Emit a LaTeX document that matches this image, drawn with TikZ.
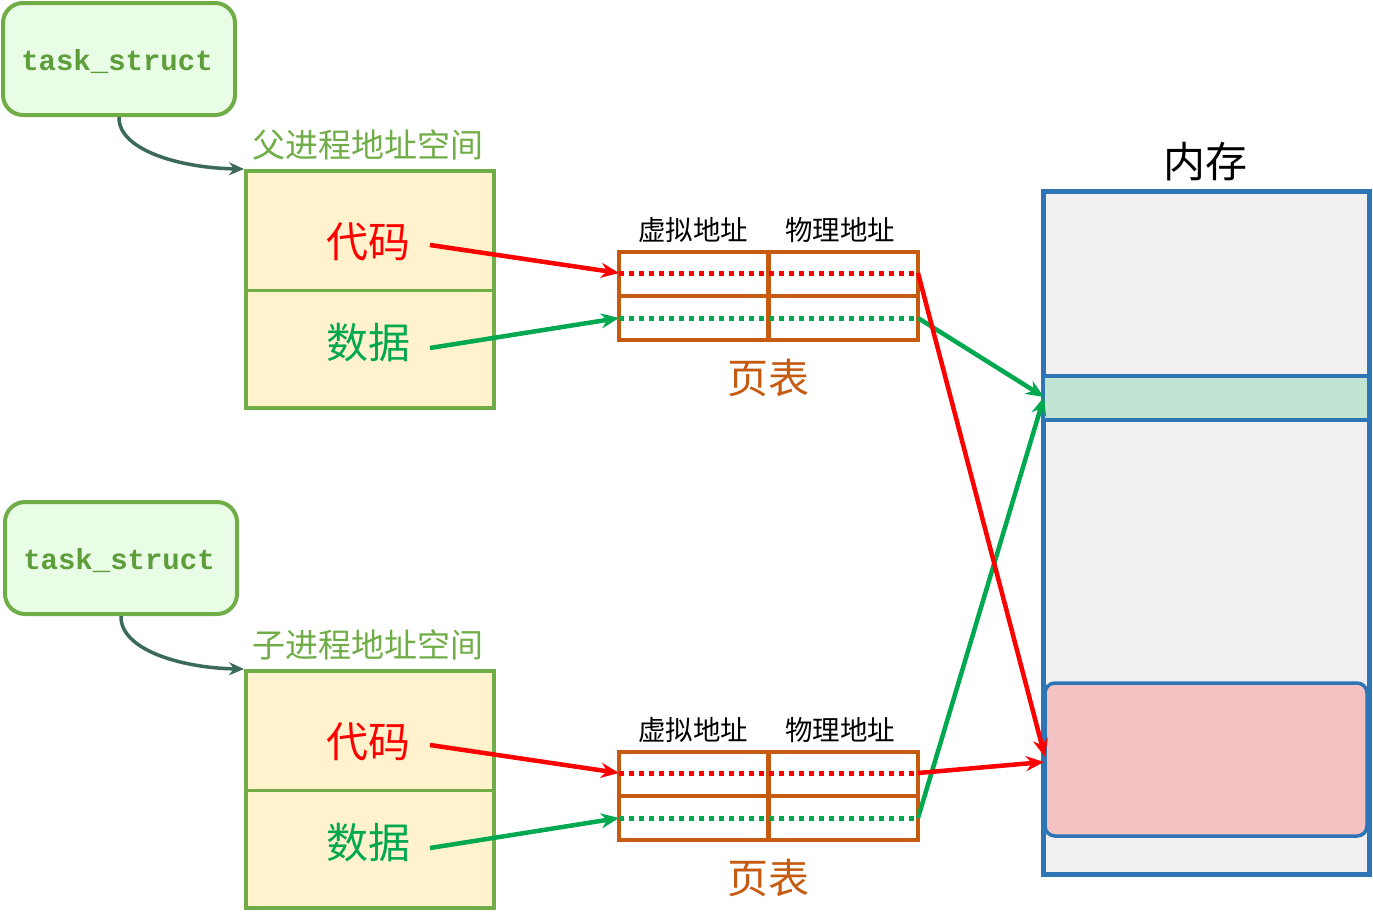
\documentclass[tikz,border=0pt]{standalone}
\usepackage{fontspec}
\setmainfont{Liberation Sans}
\newfontfamily\cjk{Noto Sans CJK SC}
\newfontfamily\monof{Liberation Mono}
\usetikzlibrary{arrows.meta}
\definecolor{tsfill}{HTML}{E8FCE6}
\definecolor{tsgreen}{HTML}{70AD47}
\definecolor{tstext}{HTML}{5E9E3A}
\definecolor{asfill}{HTML}{FFF2CC}
\definecolor{ptbrown}{HTML}{C55A11}
\definecolor{memblue}{HTML}{2E75B6}
\definecolor{memfill}{HTML}{F0F0F0}
\definecolor{bandfill}{HTML}{C2E5D3}
\definecolor{pinkfill}{HTML}{F4C2C2}
\definecolor{arrred}{HTML}{FF0000}
\definecolor{arrgreen}{HTML}{00A84F}
\definecolor{curvec}{HTML}{3B6A58}
\tikzset{
  tsbox/.style={draw=tsgreen, fill=tsfill, line width=4pt, rounded corners=20pt, minimum width=232pt, minimum height=112pt, inner sep=0pt},
  tstxt/.style={font=\monof\bfseries\fontsize{29}{29}\selectfont, text=tstext, inner sep=0pt},
  asbox/.style={draw=tsgreen, fill=asfill, line width=4pt, minimum width=248pt, minimum height=237pt, inner sep=0pt},
  aslabel/.style={font=\cjk\fontsize{33}{33}\selectfont, text=tsgreen, inner sep=0pt},
  big/.style={font=\cjk\fontsize{42}{42}\selectfont, inner sep=0pt},
  ptbox/.style={draw=ptbrown, line width=4.5pt, minimum width=299pt, minimum height=88pt, inner sep=0pt},
  ptdiv/.style={draw=ptbrown, line width=4.5pt},
  hdr/.style={font=\cjk\fontsize{27.5}{27.5}\selectfont, inner sep=0pt},
  ptlabel/.style={font=\cjk\fontsize{41}{41}\selectfont, text=ptbrown, inner sep=0pt},
  dotred/.style={draw=arrred, line width=5pt, dash pattern=on 5pt off 5pt},
  dotgreen/.style={draw=arrgreen, line width=5pt, dash pattern=on 5pt off 5pt},
  redarr/.style={draw=arrred, line width=4.5pt, -{Stealth[length=18pt,width=15pt]}},
  greenarr/.style={draw=arrgreen, line width=4.5pt, -{Stealth[length=18pt,width=15pt]}},
  curvearr/.style={draw=curvec, line width=3.5pt, -{Stealth[length=15pt,width=13pt]}},
}
\begin{document}
\begin{tikzpicture}[x=1pt,y=-1pt]
\useasboundingbox (0,0) rectangle (1373,911);

% task_struct boxes
\node[tsbox] (ts1) at (119,59) {};
\node[tstxt] (ts1t) at (117,62) {task\_struct};
\node[tsbox] (ts2) at (121,558) {};
\node[tstxt] (ts2t) at (119,561) {task\_struct};

% address spaces
\node[asbox] (as1) at (370,289.5) {};
\draw[draw=tsgreen, line width=3pt] (as1.west |- 0,290) coordinate (as1dl) -- (as1.east |- 0,290) coordinate (as1dr);
\node[aslabel] (as1lab) at (368,145) {父进程地址空间};
\node[big, text=arrred] (code1) at (368,242) {代码};
\node[big, text=arrgreen] (data1) at (368,343) {数据};

\node[asbox] (as2) at (370,789.5) {};
\draw[draw=tsgreen, line width=3pt] (as2.west |- 0,790) coordinate (as2dl) -- (as2.east |- 0,790) coordinate (as2dr);
\node[aslabel] (as2lab) at (368,645) {子进程地址空间};
\node[big, text=arrred] (code2) at (368,742) {代码};
\node[big, text=arrgreen] (data2) at (368,843) {数据};

% curved arrows
\draw[curvearr] (ts1.south) .. controls (118,150) and (180,168) .. (as1.north west);
\draw[curvearr] (ts2.south) .. controls (120,650) and (182,668) .. (as2.north west);

% page table 1
\node[ptbox] (pt1) at (768.5,296) {};
\draw[ptdiv] (pt1.north) -- (pt1.south);
\draw[ptdiv] (pt1.west) -- (pt1.east);
\node[hdr] (pt1h1) at (693,230) {虚拟地址};
\node[hdr] (pt1h2) at (840,230) {物理地址};
\node[ptlabel] (pt1lab) at (768,378) {页表};
\coordinate (p1rw) at (619,273); \coordinate (p1re) at (918,273);
\coordinate (p1gw) at (619,318); \coordinate (p1ge) at (918,318);
\draw[dotred] (p1rw) -- (p1re);
\draw[dotgreen] (p1gw) -- (p1ge);

% page table 2
\node[ptbox] (pt2) at (768.5,796) {};
\draw[ptdiv] (pt2.north) -- (pt2.south);
\draw[ptdiv] (pt2.west) -- (pt2.east);
\node[hdr] (pt2h1) at (693,730) {虚拟地址};
\node[hdr] (pt2h2) at (840,730) {物理地址};
\node[ptlabel] (pt2lab) at (768,878) {页表};
\coordinate (p2rw) at (619,773); \coordinate (p2re) at (918,773);
\coordinate (p2gw) at (619,818); \coordinate (p2ge) at (918,818);
\draw[dotred] (p2rw) -- (p2re);
\draw[dotgreen] (p2gw) -- (p2ge);

% memory
\node[font=\cjk\fontsize{42}{42}\selectfont, inner sep=0pt] (memlab) at (1205,162) {内存};
\node[draw=memblue, fill=memfill, line width=5pt, minimum width=326pt, minimum height=683pt, inner sep=0pt] (mem) at (1206,532.5) {};
\node[draw=memblue, fill=bandfill, line width=4pt, minimum width=326pt, minimum height=44pt, inner sep=0pt] (band) at (1206,398) {};
\node[draw=memblue, fill=pinkfill, line width=3.5pt, rounded corners=10pt, minimum width=322pt, minimum height=153pt, inner sep=0pt] (pink) at (1206,759.5) {};
\coordinate (bandin) at (1044,397);
\coordinate (pinkin1) at (1045,757);
\coordinate (pinkin2) at (1044,762);

% arrows from address spaces to page tables
\coordinate (c1s) at (430,245); \coordinate (d1s) at (430,348);
\coordinate (c2s) at (430,745); \coordinate (d2s) at (430,848);
\draw[redarr] (c1s) -- (p1rw);
\draw[greenarr] (d1s) -- (p1gw);
\draw[redarr] (c2s) -- (p2rw);
\draw[greenarr] (d2s) -- (p2gw);

% arrows from page tables to memory
\draw[greenarr] (p1ge) -- (bandin);
\draw[greenarr] (p2ge) -- (bandin);
\draw[redarr] (p1re) -- (pinkin1);
\draw[redarr] (p2re) -- (pinkin2);
\end{tikzpicture}
\end{document}
